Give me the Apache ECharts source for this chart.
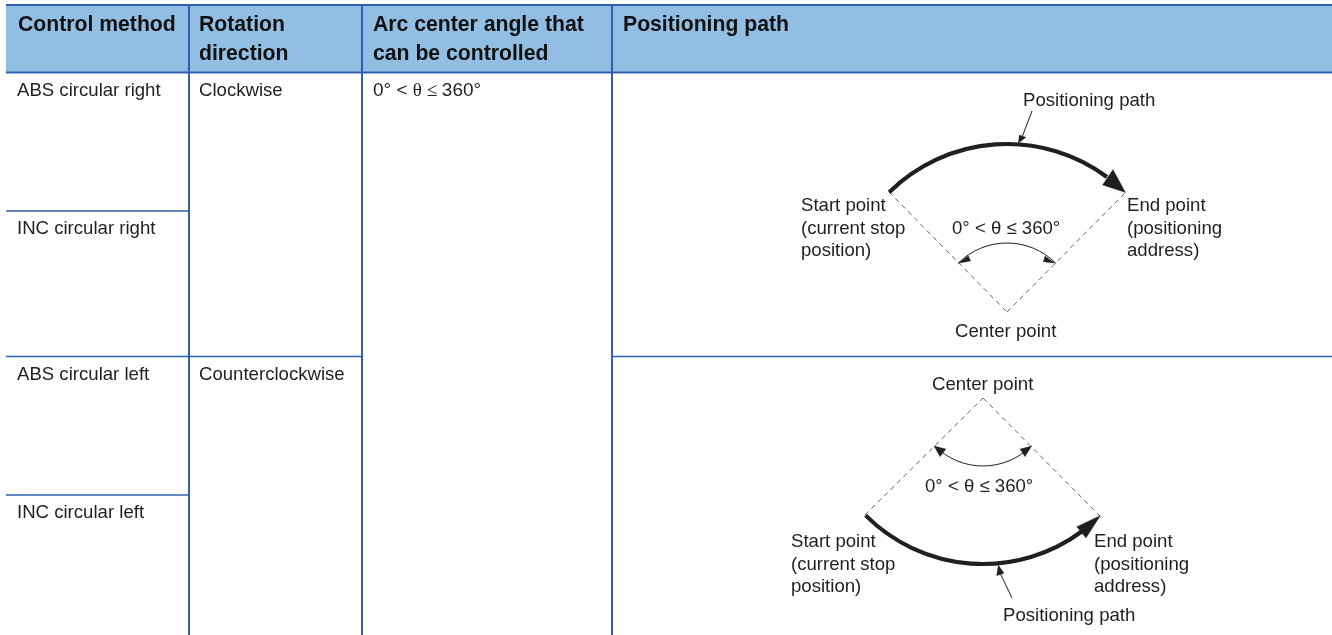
<!DOCTYPE html>
<html>
<head>
<meta charset="utf-8">
<script src="https://cdn.jsdelivr.net/npm/echarts@6/dist/echarts.min.js"></script>
<style>html,body{margin:0;padding:0;background:#fff}#c{width:1332px;height:635px}</style>
</head>
<body>
<div id="c"></div>
<script>
// Table content
const headerLabels = ['Control method', 'Rotation\ndirection', 'Arc center angle that\ncan be controlled', 'Positioning path'];
const methodLabels = ['ABS circular right', 'INC circular right', 'ABS circular left', 'INC circular left'];
const directionLabels = ['Clockwise', 'Counterclockwise'];
const angleParts = ['0°', ' < ', 'θ', ' ≤ ', '360°'];
const diagramStart = ['Start point', '(current stop', 'position)'];
const diagramEnd = ['End point', '(positioning', 'address)'];
const diagramCenter = 'Center point';
const diagramPath = 'Positioning path';
const diagramAngle = '0° < θ ≤ 360°';

// Table grid, in the hidden axes' units
const columnEdges = [6, 189, 362, 612, 1332];
const headerTop = 5, headerBottom = 72.5;
const methodRows = [73, 211, 356.5, 495, 635];

// Fan diagrams, in the hidden axes' units
const upperFan = {c: [1007, 312], r: 168, ir: 69, from: -134.5, to: -53.5, innerFrom: -135, innerTo: -45,
  start: [889, 192], end: [1125, 193],
  head: [[1125.5, 192.5], [1102.5, 185], [1113, 169.5]],
  innerHeadA: [[958.3, 263.3], [968.3, 255.7], [970.7, 261]],
  innerHeadB: [[1055, 263.3], [1045, 256], [1043.3, 261.7]],
  pointer: [[1032, 111], [1022.5, 136]],
  pointerHead: [[1018.3, 143.3], [1019.3, 135], [1026, 137.3]]};
const lowerFan = {c: [983, 398], r: 166, ir: 68, from: 53.5, to: 135, innerFrom: 45, innerTo: 135,
  start: [865, 515], end: [1100, 516],
  head: [[1100.5, 515.5], [1076.7, 526.7], [1086, 538]],
  innerHeadA: [[934, 446], [946, 449], [940, 456.7]],
  innerHeadB: [[1031.7, 446], [1020, 449], [1025, 456.7]],
  pointer: [[1012, 598], [1000.5, 574]],
  pointerHead: [[998.3, 565], [996.7, 575.7], [1004, 573.3]]};

const RULE = '#2e62b0', HEAD = '#93bee4', INK = '#1f1f1f';
const SANS = '"Liberation Sans", Arial, sans-serif', SERIF = '"Liberation Serif", serif';

function render(params, api) {
  const P = (p) => api.coord(p);
  const unit = api.size([1, 1]);
  const out = [];
  const line = (a, b, w, color, dash) => {
    const A = P(a), B = P(b);
    out.push({type: 'line', shape: {x1: A[0], y1: A[1], x2: B[0], y2: B[1]},
      style: {stroke: color, lineWidth: w, lineDash: dash || null, fill: null}});
  };
  const poly = (pts) => out.push({type: 'polygon', shape: {points: pts.map(P)}, style: {fill: INK, stroke: INK, lineWidth: 0.3}});
  const text = (s, x, y, size, weight, extra) => {
    const p = P([x, y + 1]);
    out.push({type: 'text', style: Object.assign({x: p[0], y: p[1], text: s, fill: INK, fontFamily: SANS, fontSize: size,
      fontWeight: weight || 'normal', align: 'left', verticalAlign: 'middle'}, extra || {})});
  };
  const arc = (c, r, a, b, w) => {
    const C = P(c);
    out.push({type: 'arc', shape: {cx: C[0], cy: C[1], r: r * unit[0], startAngle: a * Math.PI / 180, endAngle: b * Math.PI / 180, clockwise: true},
      style: {fill: null, stroke: INK, lineWidth: w}});
  };

  // header band
  const h0 = P([columnEdges[0], headerTop]), h1 = P([1332, headerBottom]);
  out.push({type: 'rect', shape: {x: h0[0], y: h0[1], width: h1[0] - h0[0], height: h1[1] - h0[1]}, style: {fill: HEAD}});

  // rules
  line([columnEdges[0], headerTop], [1332, headerTop], 2, RULE);
  line([columnEdges[0], headerBottom], [1332, headerBottom], 2, RULE);
  [columnEdges[1], columnEdges[2], columnEdges[3]].forEach((x) => line([x, headerTop], [x, 635], 2, RULE));
  line([columnEdges[0], methodRows[1]], [columnEdges[1], methodRows[1]], 1.5, RULE);
  line([columnEdges[0], methodRows[2]], [columnEdges[2], methodRows[2]], 1.5, RULE);
  line([columnEdges[0], methodRows[3]], [columnEdges[1], methodRows[3]], 1.5, RULE);
  line([columnEdges[3], methodRows[2]], [1332, methodRows[2]], 1.5, RULE);

  // header text
  const headX = [18, 199, 373, 623];
  headerLabels.forEach((t, i) => t.split('\n').forEach((s, j) =>
    text(s, headX[i], 24 + j * 29, 21.2, 'bold', {fill: '#111'})));

  // body text
  const B = 18.6;
  const rowY = [90, 228, 374, 512];
  methodLabels.forEach((t, i) => text(t, 17, rowY[i], B));
  directionLabels.forEach((t, i) => text(t, 199, rowY[i * 2], B));
  const aP = P([373, 91]);
  const W = 19;
  out.push({type: 'text', style: {x: aP[0], y: aP[1], fill: INK, align: 'left', verticalAlign: 'middle',
    text: '{a|' + angleParts[0] + '}{b|' + angleParts[1] + '}{c|' + angleParts[2] + '}{c|' + angleParts[3] + '}{a|' + angleParts[4] + '}',
    rich: {a: {fontFamily: SANS, fontSize: W, fill: INK}, b: {fontFamily: SANS, fontSize: W, fill: INK}, c: {fontFamily: SERIF, fontSize: W, fill: INK}}}});

  // fans
  [upperFan, lowerFan].forEach((f) => {
    line(f.start, f.c, 1, '#666', [5, 4]);
    line(f.c, f.end, 1, '#666', [5, 4]);
    arc(f.c, f.r, f.from, f.to, 4.2);
    poly(f.head);
    arc(f.c, f.ir, f.innerFrom, f.innerTo, 1);
    poly(f.innerHeadA);
    poly(f.innerHeadB);
    line(f.pointer[0], f.pointer[1], 1, INK);
    poly(f.pointerHead);
  });
  const D = 18.6;
  text(diagramPath, 1023, 99.5, D);
  diagramStart.forEach((s, i) => text(s, 801, 205 + i * 22.5, D));
  diagramEnd.forEach((s, i) => text(s, 1127, 205 + i * 22.5, D));
  text(diagramAngle, 952, 228, D);
  text(diagramCenter, 955, 331, D);

  text(diagramCenter, 932, 384, D);
  text(diagramAngle, 925, 486, D);
  diagramStart.forEach((s, i) => text(s, 791, 541 + i * 22.5, D));
  diagramEnd.forEach((s, i) => text(s, 1094, 541 + i * 22.5, D));
  text(diagramPath, 1003, 615, D);

  return {type: 'group', children: out};
}

const chart = echarts.init(document.getElementById('c'), null, {renderer: 'canvas'});
chart.setOption({
  animation: false,
  backgroundColor: '#fff',
  grid: {left: 0, right: 0, top: 0, bottom: 0},
  xAxis: {type: 'value', min: 0, max: 1332, show: false},
  yAxis: {type: 'value', min: 0, max: 635, inverse: true, show: false},
  series: [{type: 'custom', coordinateSystem: 'cartesian2d', clip: false, silent: true, renderItem: render, data: [[0, 0]]}]
});
</script>
</body>
</html>
